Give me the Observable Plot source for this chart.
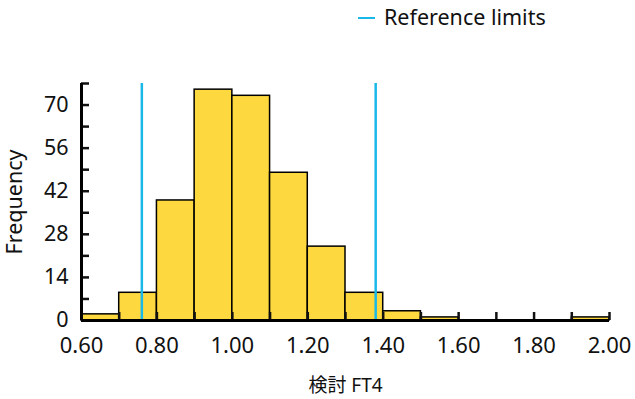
<!DOCTYPE html>
<html>
<head>
<meta charset="utf-8">
<script src="https://cdn.jsdelivr.net/npm/d3@7"></script>
<script src="https://cdn.jsdelivr.net/npm/@observablehq/plot@0.6"></script>
<style>
  html, body { margin: 0; padding: 0; background: #fff; }
  body { width: 635px; height: 399px; overflow: hidden; font-family: "Noto Sans", "Noto Sans CJK JP", sans-serif; }
  #legend { position: relative; height: 38px; }
  #legend .sw { position: absolute; left: 358px; top: 16.5px; width: 17px; height: 2.5px; background: #19b8e8; }
  #legend .lb { position: absolute; left: 384px; top: 5.5px; font-size: 21.5px; color: #111; line-height: 22px; white-space: nowrap; }
</style>
</head>
<body>
<div id="legend"><div class="sw"></div><div class="lb">Reference limits</div></div>
<div id="chart"></div>
<script>
const binStarts = [0.6, 0.7, 0.8, 0.9, 1.0, 1.1, 1.2, 1.3, 1.4, 1.5, 1.6, 1.7, 1.8, 1.9];
const binWidth = 0.1;
const counts = [2, 9, 39, 75, 73, 48, 24, 9, 3, 1, 0, 0, 0, 1];
const referenceLimits = [0.76, 1.38];
const yTickLabels = [0, 14, 28, 42, 56, 70];
const yMinorTicks = [0, 7, 14, 21, 28, 35, 42, 49, 56, 63, 70, 77];
const xTickLabels = [0.6, 0.8, 1.0, 1.2, 1.4, 1.6, 1.8, 2.0];
const xMinorTicks = [0.6, 0.7, 0.8, 0.9, 1.0, 1.1, 1.2, 1.3, 1.4, 1.5, 1.6, 1.7, 1.8, 1.9, 2.0];

const bins = binStarts.map((s, i) => ({x1: s, x2: +(s + binWidth).toFixed(2), count: counts[i]}));
const font = '"Noto Sans", "Noto Sans CJK JP", sans-serif';

const chart = Plot.plot({
  width: 635,
  height: 361,
  marginLeft: 81,
  marginRight: 26,
  marginTop: 45,
  marginBottom: 79,
  style: {fontFamily: font, fontSize: "21px", color: "#111", background: "#fff"},
  x: {domain: [0.6, 2.0]},
  y: {domain: [0, 77]},
  marks: [
    Plot.rectY(bins.filter(d => d.count > 0), {x1: "x1", x2: "x2", y1: 0, y2: "count", fill: "#fdd93f", stroke: "#000", strokeWidth: 1.5}),
    Plot.ruleX(referenceLimits, {stroke: "#19b8e8", strokeWidth: 2.5}),
    Plot.axisY({ticks: yMinorTicks, tickSize: -8, tickFormat: () => "", strokeWidth: 2.5, label: null}),
    Plot.axisY({ticks: yTickLabels, tickSize: 0, tickPadding: 13, fontSize: 21.5, label: null}),
    Plot.axisX({ticks: xMinorTicks, tickSize: -8, tickFormat: () => "", strokeWidth: 2.5, label: null}),
    Plot.axisX({ticks: xTickLabels, tickSize: 0, tickPadding: 17, tickFormat: d3.format(".2f"), fontSize: 22, label: null}),
    Plot.ruleY([0], {stroke: "#000", strokeWidth: 3}),
    Plot.ruleX([0.6], {stroke: "#000", strokeWidth: 3}),
    Plot.text(["Frequency"], {frameAnchor: "left", textAnchor: "middle", lineAnchor: "middle", dx: -66, rotate: -90, fontSize: 21.5, fill: "#111"}),
    Plot.text(["検討 FT4"], {frameAnchor: "bottom", textAnchor: "middle", lineAnchor: "middle", dy: 65, fontSize: 19, fill: "#111"})
  ]
});
document.getElementById("chart").appendChild(chart);
</script>
</body>
</html>
